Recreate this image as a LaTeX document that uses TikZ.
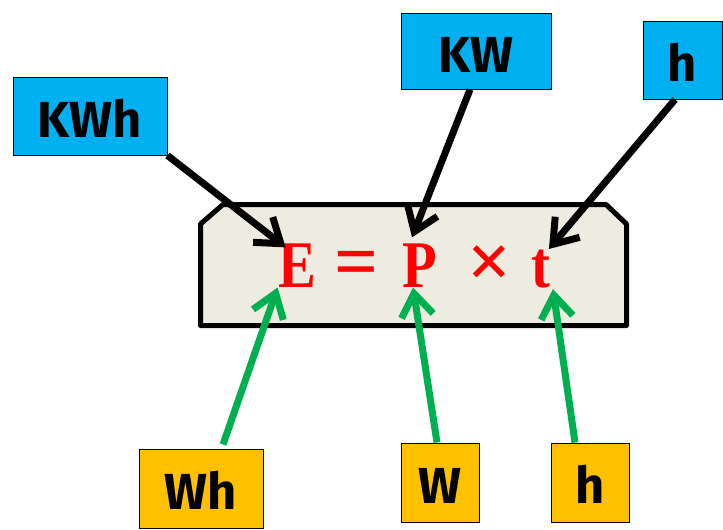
\documentclass[tikz,border=0pt]{standalone}
\usepackage{fontspec}
\usetikzlibrary{arrows.meta,shadows}
\newfontfamily\labelfont{Fira Sans}
\newfontfamily\eqfont{Liberation Serif}[FakeStretch=0.85]
\newfontfamily\opfont{Liberation Serif}
\definecolor{boxblue}{RGB}{0,176,240}
\definecolor{boxorange}{RGB}{255,192,0}
\definecolor{arrowgreen}{RGB}{0,176,80}
\definecolor{eqred}{RGB}{255,0,0}
\definecolor{panelgrey}{RGB}{238,236,225}

\tikzset{every picture/.style={line width=0.75pt}}
\tikzset{
  unitbox/.style={draw=black, line width=0.75pt, inner sep=0pt, text height=32pt, font=\labelfont\bfseries\fontsize{38}{40}\selectfont},
  bluebox/.style={unitbox, fill=boxblue},
  orangebox/.style={unitbox, fill=boxorange},
  symb/.style={anchor=base, inner sep=0pt, text=eqred, font=\eqfont\bfseries\fontsize{50}{52}\selectfont},
  opsymb/.style={anchor=base, inner sep=0pt, text=eqred, font=\opfont\bfseries\fontsize{58}{60}\selectfont},
  blackarrow/.style={line width=5.25pt, -{Straight Barb[length=17pt,width=24pt]}},
  greenarrow/.style={blackarrow, draw=arrowgreen},
}

\begin{document}
\begin{tikzpicture}[x=0.75pt,y=0.75pt,yscale=-1,xscale=1]
\path [use as bounding box] (0,0) rectangle (723,529); %set diagram size

%Shape: Snip Same Side Corner Rectangle [id:panel]
\draw [line width=3.75pt, line join=round, fill=panelgrey, drop shadow={shadow xshift=1.5pt, shadow yshift=1.5pt, opacity=0.25}] (200.5,224) -- (223,204.5) -- (606,204.5) -- (626.5,224) -- (626.5,325.5) -- (200.5,325.5) -- cycle ;

% Text Node
\node (E) at (297,287) [symb] {E};
% Text Node
\node (eqs) at (357,287) [opsymb] {=};
% Text Node
\node (P) at (420,287) [symb] {P};
% Text Node
\node (times) at (490,287) [opsymb] {×};
% Text Node
\node (t) at (541,287) [symb] {t};

%Shape: Rectangle [id:kwh]
\node (kwh) at (90,116) [bluebox, minimum width=115.5pt, minimum height=58.5pt] {KWh};
%Shape: Rectangle [id:kw]
\node (kw) at (476,51) [bluebox, minimum width=112.5pt, minimum height=57pt] {KW};
%Shape: Rectangle [id:hour]
\node (hour) at (682.5,60) [bluebox, minimum width=59.25pt, minimum height=58.5pt] {h};
%Shape: Rectangle [id:wh]
\node (wh) at (201,488.5) [orangebox, minimum width=93pt, minimum height=59.25pt] {Wh};
%Shape: Rectangle [id:w]
\node (w) at (440,482.5) [orangebox, minimum width=58.5pt, minimum height=59.25pt] {W};
%Shape: Rectangle [id:hr]
\node (hr) at (590,482.5) [orangebox, minimum width=58.5pt, minimum height=59.25pt] {h};

%Straight Lines [id:top arrows]
\draw [blackarrow] (kwh.south east) -- ([shift={(8,4.5)}]E.north west);
\draw [blackarrow] ([shift={(-6,0)}]kw.south) -- ([shift={(-8,-5.5)}]P.north);
\draw [blackarrow] ([shift={(-7.5,0)}]hour.south) -- ([shift={(-2,0)}]t.north east);
%Straight Lines [id:bottom arrows]
\draw [greenarrow] ([shift={(22,-4)}]wh.north) -- (E.south west);
\draw [greenarrow] ([shift={(-3,0)}]w.north) -- ([shift={(-7,0)}]P.south);
\draw [greenarrow] ([shift={(-15,0)}]hr.north) -- ([shift={(2,1)}]t.south east);

\end{tikzpicture}
\end{document}
